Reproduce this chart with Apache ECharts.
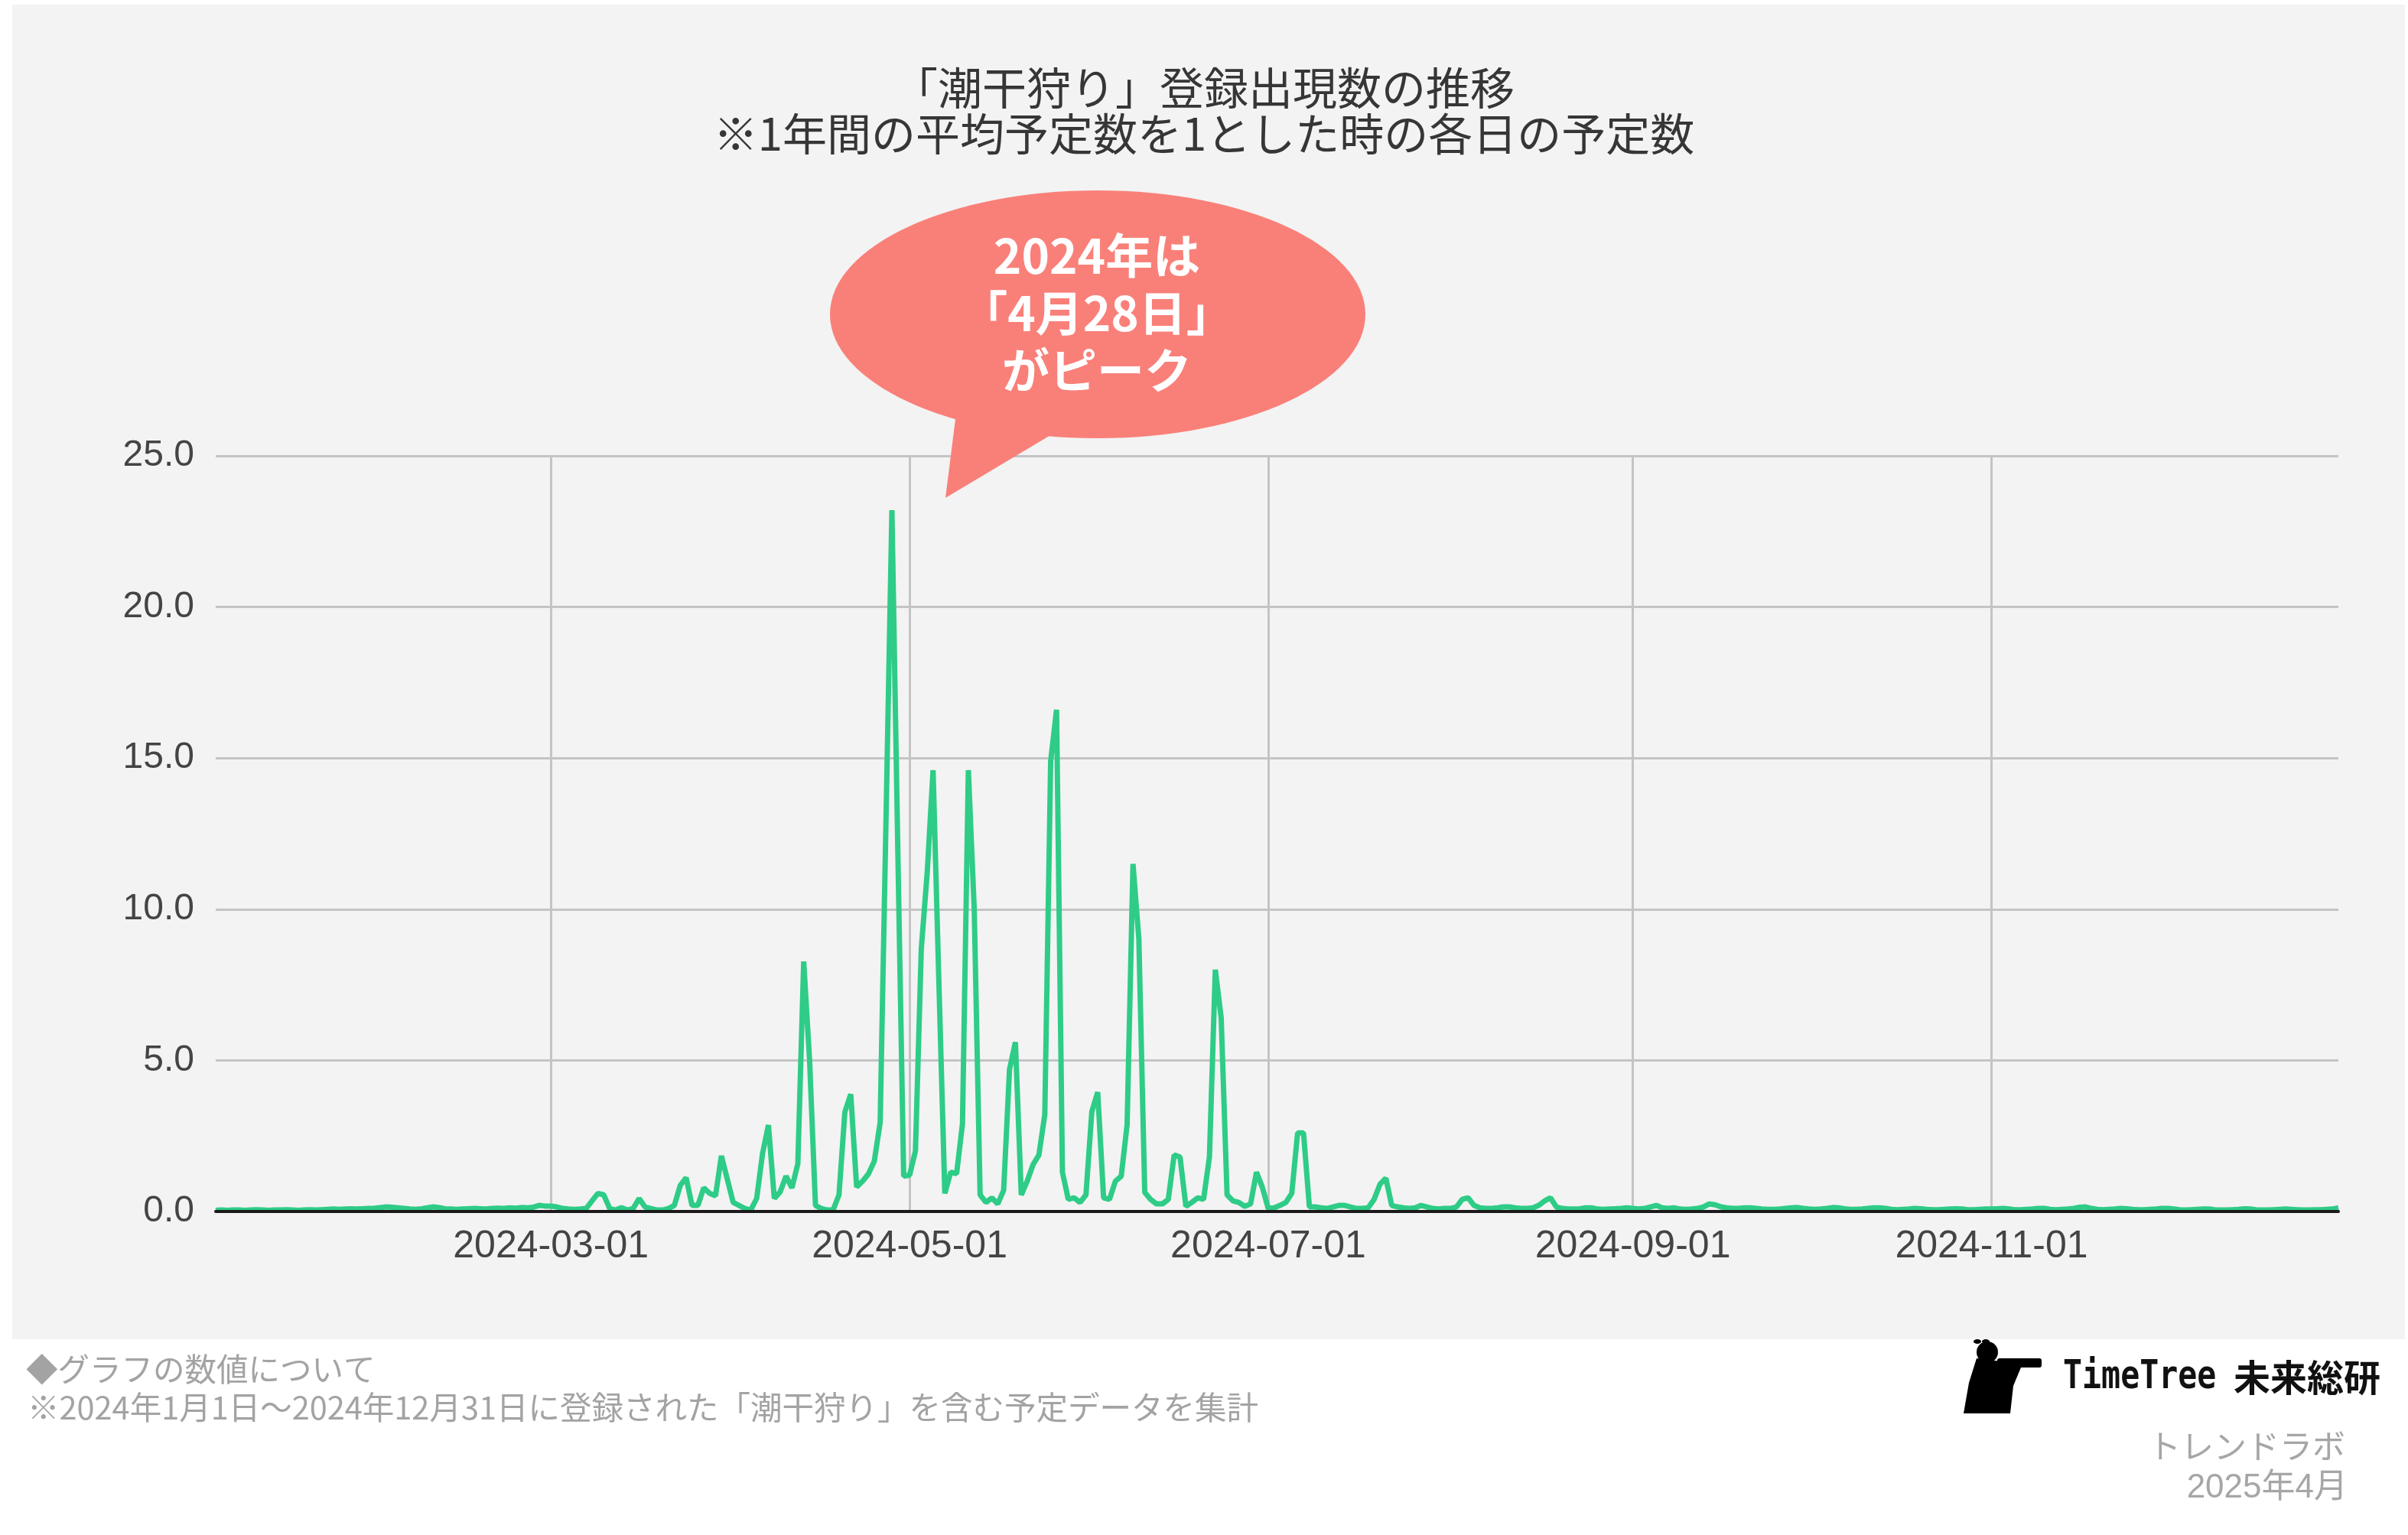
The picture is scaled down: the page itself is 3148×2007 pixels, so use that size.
<!DOCTYPE html>
<html>
<head>
<meta charset="utf-8">
<script src="https://cdn.jsdelivr.net/npm/echarts@6/dist/echarts.min.js"></script>
<style>
  html, body { margin: 0; padding: 0; background: #fff; }
  #chart { width: 3148px; height: 2007px; }
</style>
</head>
<body>
<div id="chart"></div>
<script>
// daily values, first point is 2024-01-04, last is 2024-12-30
const startDate = '2024-01-04';
const jan = [0.04, 0.05, 0.04, 0.05, 0.05, 0.04, 0.05, 0.06, 0.05, 0.04, 0.05, 0.05, 0.06, 0.05,
  0.04, 0.05, 0.06, 0.05, 0.06, 0.07, 0.08, 0.07, 0.08, 0.09, 0.08, 0.09, 0.1, 0.11];
const feb = [0.13, 0.15, 0.14, 0.12, 0.1, 0.08, 0.07, 0.09, 0.12, 0.15, 0.13, 0.09, 0.08, 0.07, 0.08,
  0.09, 0.1, 0.09, 0.08, 0.1, 0.11, 0.1, 0.12, 0.11, 0.13, 0.12, 0.14, 0.2, 0.18];
const mar = [0.18, 0.15, 0.1, 0.08, 0.07, 0.08, 0.1, 0.35, 0.6, 0.55, 0.1, 0.05, 0.13, 0.05, 0.1,
  0.43, 0.15, 0.1, 0.05, 0.05, 0.1, 0.2, 0.86, 1.12, 0.2, 0.2, 0.78, 0.6, 0.52, 1.84, 1.07];
const apr = [0.3, 0.2, 0.1, 0.05, 0.43, 1.92, 2.86, 0.43, 0.65, 1.17, 0.78, 1.58, 8.27, 5.0, 0.2,
  0.1, 0.05, 0.05, 0.55, 3.29, 3.88, 0.81, 1.0, 1.24, 1.66, 2.94, 13.0, 23.2, 12.0, 1.17];
const may = [1.2, 2.0, 8.7, 11.2, 14.6, 7.5, 0.6, 1.3, 1.25, 2.9, 14.6, 10.0, 0.55, 0.3, 0.45,
  0.25, 0.7, 4.7, 5.6, 0.55, 1.0, 1.55, 1.87, 3.2, 14.9, 16.6, 1.3, 0.4, 0.45, 0.3, 0.55];
const jun = [3.3, 3.95, 0.45, 0.4, 1.0, 1.17, 2.87, 11.5, 9.0, 0.63, 0.4, 0.25, 0.25, 0.4, 1.87,
  1.8, 0.17, 0.3, 0.45, 0.4, 1.8, 8.0, 6.4, 0.55, 0.35, 0.3, 0.17, 0.25, 1.3, 0.8];
const jul = [0.1, 0.12, 0.2, 0.3, 0.6, 2.6, 2.6, 0.15, 0.15, 0.12, 0.1, 0.15, 0.2, 0.2, 0.15,
  0.1, 0.1, 0.12, 0.4, 0.9, 1.1, 0.2, 0.15, 0.12, 0.1, 0.12, 0.2, 0.15, 0.1, 0.08, 0.1];
const aug = [0.1, 0.15, 0.4, 0.45, 0.2, 0.12, 0.1, 0.1, 0.12, 0.15, 0.15, 0.12, 0.1, 0.1, 0.12,
  0.2, 0.35, 0.45, 0.15, 0.1, 0.08, 0.08, 0.09, 0.12, 0.12, 0.08, 0.07, 0.08, 0.09, 0.1, 0.12];
const sep = [0.1, 0.08, 0.1, 0.15, 0.2, 0.12, 0.1, 0.12, 0.08, 0.07, 0.08, 0.1, 0.15, 0.25, 0.22,
  0.15, 0.12, 0.1, 0.1, 0.12, 0.12, 0.1, 0.08, 0.07, 0.07, 0.08, 0.1, 0.12, 0.13, 0.1];
const oct = [0.08, 0.07, 0.08, 0.1, 0.13, 0.12, 0.09, 0.07, 0.07, 0.08, 0.1, 0.12, 0.12, 0.1, 0.07,
  0.06, 0.07, 0.08, 0.1, 0.09, 0.07, 0.06, 0.06, 0.07, 0.08, 0.09, 0.08, 0.06, 0.06, 0.07, 0.08];
const nov = [0.08, 0.09, 0.1, 0.08, 0.06, 0.06, 0.07, 0.08, 0.1, 0.1, 0.07, 0.06, 0.07, 0.08, 0.1,
  0.14, 0.15, 0.1, 0.07, 0.06, 0.07, 0.08, 0.1, 0.09, 0.07, 0.06, 0.06, 0.07, 0.08, 0.1];
const dec = [0.1, 0.08, 0.06, 0.05, 0.06, 0.07, 0.08, 0.08, 0.06, 0.05, 0.05, 0.06, 0.07, 0.09, 0.08,
  0.06, 0.05, 0.05, 0.06, 0.07, 0.08, 0.07, 0.06, 0.05, 0.05, 0.06, 0.06, 0.07, 0.08, 0.12];

const tickDates = ['2024-03-01', '2024-05-01', '2024-07-01', '2024-09-01', '2024-11-01'];
const yTicks = [0, 5, 10, 15, 20, 25];

const values = [].concat(jan, feb, mar, apr, may, jun, jul, aug, sep, oct, nov, dec);

// x is the day number in 2024 (0 = Jan 1)
function dayOfYear(s) {
  const p = s.split('-').map(Number);
  return Math.round((Date.UTC(p[0], p[1] - 1, p[2]) - Date.UTC(2024, 0, 1)) / 86400000);
}
function dayToString(d) {
  return new Date(Date.UTC(2024, 0, 1 + d)).toISOString().slice(0, 10);
}
const firstDay = dayOfYear(startDate);
const lastDay = firstDay + values.length - 1;
const seriesData = values.map((v, i) => [firstDay + i, v]);
const tickDays = tickDates.map(dayOfYear);

const chart = echarts.init(document.getElementById('chart'));
const axisFont = 'Liberation Sans, Arial, sans-serif';
const jpFont = 'Noto Sans CJK JP, sans-serif';
const green = '#2ecc87';

chart.setOption({
  animation: false,
  backgroundColor: '#ffffff',
  title: {
    text: '「潮干狩り」登録出現数の推移\n※1年間の平均予定数を1とした時の各日の予定数',
    left: 'center',
    top: 80,
    textStyle: {
      fontFamily: jpFont,
      fontSize: 58,
      fontWeight: 'normal',
      color: '#363636',
      lineHeight: 60
    }
  },
  grid: { left: 282, right: 91, top: 596, bottom: 423 },
  xAxis: [
    {
      type: 'value',
      min: firstDay,
      max: lastDay,
      axisLine: { show: false },
      axisTick: { show: false, customValues: tickDays },
      axisLabel: {
        customValues: tickDays,
        margin: 21,
        fontFamily: axisFont,
        fontSize: 50,
        color: '#444444',
        formatter: (v) => dayToString(v)
      },
      splitLine: { show: true, lineStyle: { color: '#c4c4c4', width: 3 } }
    },
    {
      // black zero line drawn above the series
      type: 'value',
      min: firstDay,
      max: lastDay,
      position: 'bottom',
      z: 5,
      axisLine: { show: true, lineStyle: { color: '#1a1a1a', width: 4 } },
      axisTick: { show: false },
      axisLabel: { show: false },
      splitLine: { show: false }
    }
  ],
  yAxis: {
    type: 'value',
    min: yTicks[0],
    max: yTicks[yTicks.length - 1],
    interval: 5,
    axisLine: { show: false },
    axisTick: { show: false },
    axisLabel: {
      margin: 28,
      fontFamily: axisFont,
      fontSize: 48,
      color: '#444444',
      formatter: (v) => v.toFixed(1)
    },
    splitLine: { lineStyle: { color: '#c4c4c4', width: 3 } }
  },
  series: [
    {
      type: 'line',
      xAxisIndex: 0,
      data: seriesData,
      showSymbol: false,
      lineStyle: { color: green, width: 7 },
      itemStyle: { color: green }
    }
  ],
  graphic: [
    // grey panel behind the chart
    {
      type: 'rect', z: -100,
      shape: { x: 16, y: 6, width: 3128, height: 1745 },
      style: { fill: '#f3f3f3' }
    },
    // speech bubble
    {
      type: 'ellipse', z: 100,
      shape: { cx: 1435, cy: 411, rx: 350, ry: 162 },
      style: { fill: '#f98079' }
    },
    {
      type: 'polygon', z: 100,
      shape: { points: [[1250, 540], [1236, 651], [1380, 565]] },
      style: { fill: '#f98079' }
    },
    {
      type: 'text', z: 101, x: 1434, y: 409,
      style: {
        text: '2024年は\n「4月28日」\nがピーク',
        fontFamily: jpFont, fontSize: 62, fontWeight: 'bold',
        lineHeight: 75, fill: '#ffffff',
        align: 'center', verticalAlign: 'middle'
      }
    },
    // notes under the chart
    {
      type: 'text', x: 34, y: 1790,
      style: {
        text: '◆グラフの数値について',
        fontFamily: jpFont, fontSize: 41.5, fill: '#a3a3a3', verticalAlign: 'middle'
      }
    },
    {
      type: 'text', x: 36, y: 1840,
      style: {
        text: '※2024年1月1日～2024年12月31日に登録された「潮干狩り」を含む予定データを集計',
        fontFamily: jpFont, fontSize: 41.5, fill: '#a3a3a3', verticalAlign: 'middle'
      }
    },
    // logo
    {
      type: 'group', z: 10,
      children: [
        { type: 'circle', shape: { cx: 2598, cy: 1768, r: 14 }, style: { fill: '#000' } },
        { type: 'ellipse', shape: { cx: 2585, cy: 1754, rx: 5, ry: 3 }, style: { fill: '#000' } },
        { type: 'ellipse', shape: { cx: 2596, cy: 1754, rx: 5, ry: 3 }, style: { fill: '#000' } },
        { type: 'rect', shape: { x: 2611, y: 1776, width: 58, height: 12, r: 3 }, style: { fill: '#000' } },
        {
          type: 'polygon',
          shape: { points: [[2584, 1776], [2616, 1780], [2642, 1788], [2632, 1812], [2628, 1848],
            [2567, 1848], [2574, 1808]] },
          style: { fill: '#000' }
        }
      ]
    },
    {
      type: 'text', x: 2697, y: 1801, scaleX: 0.8,
      style: {
        text: 'TimeTree', fontFamily: 'DejaVu Sans Mono, monospace', fontSize: 52,
        fontWeight: 'bold', fill: '#111', verticalAlign: 'middle'
      }
    },
    {
      type: 'text', x: 3112, y: 1801,
      style: {
        text: '未来総研', fontFamily: jpFont, fontSize: 48, fontWeight: 'bold',
        fill: '#111', align: 'right', verticalAlign: 'middle'
      }
    },
    {
      type: 'text', x: 3066, y: 1891,
      style: {
        text: 'トレンドラボ', fontFamily: jpFont, fontSize: 43, fill: '#a6a6a6',
        align: 'right', verticalAlign: 'middle'
      }
    },
    {
      type: 'text', x: 3069, y: 1946,
      style: {
        text: '2025年4月', fontFamily: 'Liberation Sans, Noto Sans CJK JP, sans-serif', fontSize: 44,
        fill: '#a6a6a6', align: 'right', verticalAlign: 'middle'
      }
    }
  ]
});
</script>
</body>
</html>
